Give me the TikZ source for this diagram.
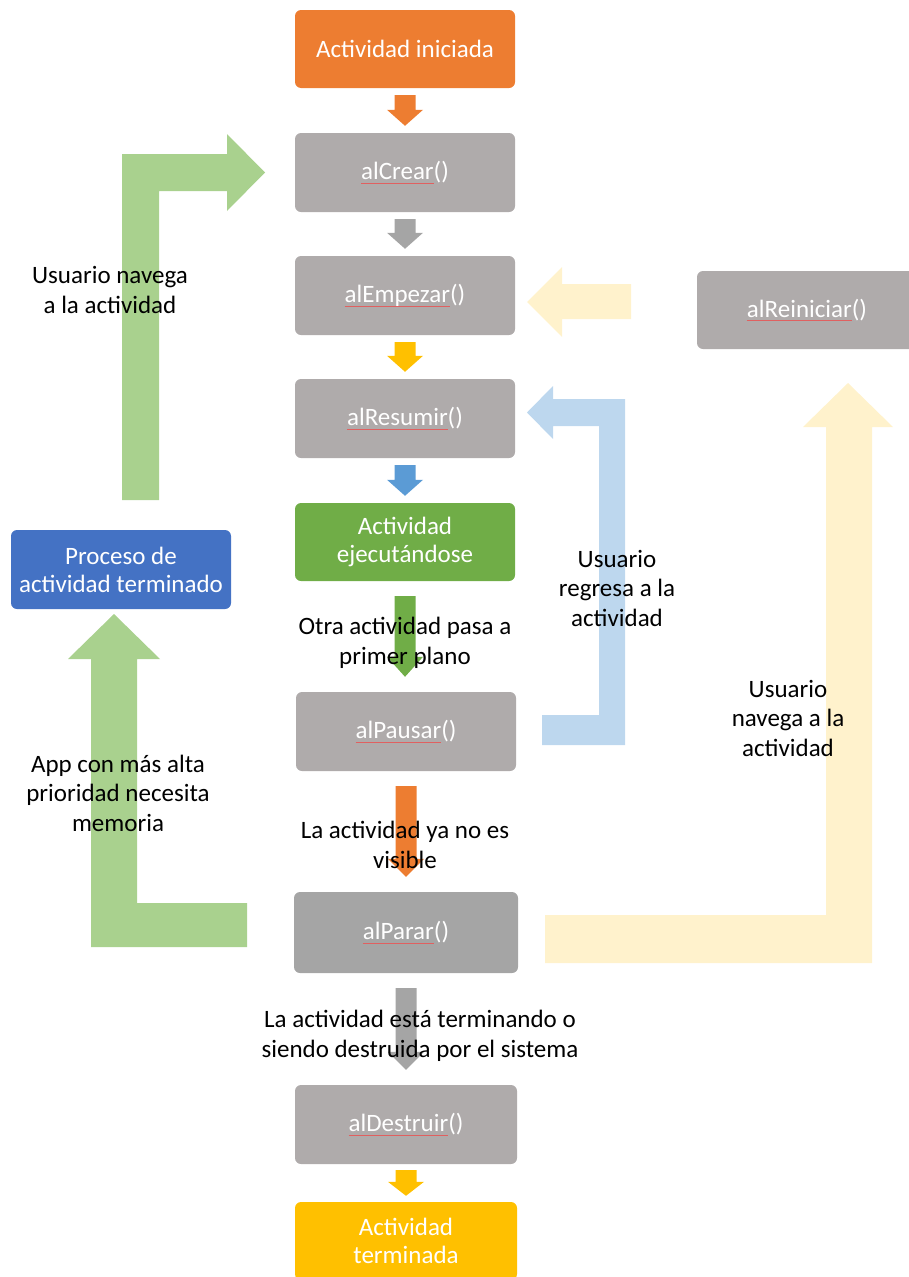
\documentclass[tikz,border=0pt]{standalone}
\usepackage{fontspec}
\setmainfont{Carlito}
\usetikzlibrary{calc}
\definecolor{corange}{HTML}{ED7D31}
\definecolor{cgray}{HTML}{AFABAB}
\definecolor{cgrayb}{HTML}{A5A5A5}
\definecolor{cyellow}{HTML}{FFC000}
\definecolor{cblue}{HTML}{5B9BD5}
\definecolor{cgreen}{HTML}{70AD47}
\definecolor{cboxblue}{HTML}{4472C4}
\definecolor{lgreen}{HTML}{A9D18E}
\definecolor{lblue}{HTML}{BDD7EE}
\definecolor{lyellow}{HTML}{FFF2CC}
\definecolor{spellred}{HTML}{E06060}
\newcommand\spellul[1]{\setbox0=\hbox{#1}\rlap{\color{spellred}\raisebox{-3.5pt}{\rule{\wd0}{0.6pt}}}#1}
\newcommand\dnarrow[5]{%
 \fill[#3] let \p1=(#1.south), \p2=(#2.north) in
 (\x1-10.5pt,\y1-#4pt) -- (\x1+10.5pt,\y1-#4pt) -- (\x1+10.5pt,\y2+#4pt+#5pt) --
 (\x1+18pt,\y2+#4pt+#5pt) -- (\x1,\y2+#4pt) -- (\x1-18pt,\y2+#4pt+#5pt) --
 (\x1-10.5pt,\y2+#4pt+#5pt) -- cycle;}
\begin{document}
\begin{tikzpicture}[x=1pt,y=-1pt,
  box/.style={rounded corners=6pt, inner sep=0pt, minimum width=220pt, minimum height=79pt,
    align=center, text=white, font=\fontsize{25}{28}\selectfont},
  lbl/.style={align=center, text=black, inner sep=0pt, font=\fontsize{25}{29.5}\selectfont}]
\useasboundingbox (0,0) rectangle (909,1277);
% boxes
\node[box, fill=corange, minimum height=78pt] (ini) at (405,49) {Actividad iniciada};
\node[box, fill=cgray] (crear) at (405,172.5) {\spellul{alCrear}()};
\node[box, fill=cgray] (empezar) at (405,295.5) {\spellul{alEmpezar}()};
\node[box, fill=cgray] (resumir) at (405,418.5) {\spellul{alResumir}()};
\node[box, fill=cgreen, minimum height=78pt] (ejec) at (405,542) {Actividad\\ejecutándose};
\node[box, fill=cgray] (pausar) at (406,731.5) {\spellul{alPausar}()};
\node[box, fill=cgrayb, minimum width=224pt, minimum height=81pt] (parar) at (406,932.5) {\spellul{alParar}()};
\node[box, fill=cgray, minimum width=222pt] (destruir) at (406,1124.5) {\spellul{alDestruir}()};
\node[box, fill=cyellow, minimum width=222pt, minimum height=78pt] (term) at (406,1241) {Actividad\\terminada};
\node[box, fill=cboxblue] (proc) at (121,569.5) {Proceso de\\actividad terminado};
\node[box, fill=cgray, minimum height=78pt] (reini) at (807,310) {\spellul{alReiniciar}()};
% straight arrows
\dnarrow{ini}{crear}{corange}{7}{16}
\dnarrow{crear}{empezar}{cgrayb}{7}{16}
\dnarrow{empezar}{resumir}{cyellow}{7}{16}
\dnarrow{resumir}{ejec}{cblue}{7}{16}
\dnarrow{ejec}{pausar}{cgreen}{15}{20}
\dnarrow{pausar}{parar}{corange}{15}{18}
\dnarrow{parar}{destruir}{cgrayb}{15}{18}
\dnarrow{destruir}{term}{cyellow}{6}{14}
% bent arrows
\fill[lgreen] (122,500) -- (122,154) -- (227,154) -- (227,134) -- (265,172.5) -- (227,211) -- (227,191) -- (159,191) -- (159,500) -- cycle;
\fill[lgreen] (247,903) -- (137,903) -- (137,659) -- (160,659) -- (114,614) -- (68,659) -- (91,659) -- (91,947) -- (247,947) -- cycle;
\fill[lblue] (542,715) -- (599,715) -- (599,426) -- (553,426) -- (553,439) -- (527,412.5) -- (553,386) -- (553,399) -- (625,399) -- (625,745) -- (542,745) -- cycle;
\fill[lyellow] (631,284) -- (562,284) -- (562,267) -- (527,302) -- (562,337) -- (562,319) -- (631,319) -- cycle;
\fill[lyellow] (545,915) -- (826,915) -- (826,427) -- (803,427) -- (848,383) -- (893,427) -- (872,427) -- (872,963) -- (545,963) -- cycle;
% labels
\node[lbl] (l1) at (110,290) {Usuario navega\\a la actividad};
\node[lbl] (l2) at (617,588) {Usuario\\regresa a la\\actividad};
\node[lbl] (l3) at (788,718) {Usuario\\navega a la\\actividad};
\node[lbl] (l4) at (405,643) {Otra actividad pasa a\\primer plano};
\node[lbl] (l5) at (405,845) {La actividad ya no es\\visible};
\node[lbl] (l6) at (420,1036) {La actividad está terminando o\\siendo destruida por el sistema};
\node[lbl] (l7) at (118,793) {App con más alta\\prioridad necesita\\memoria};
\end{tikzpicture}
\end{document}
